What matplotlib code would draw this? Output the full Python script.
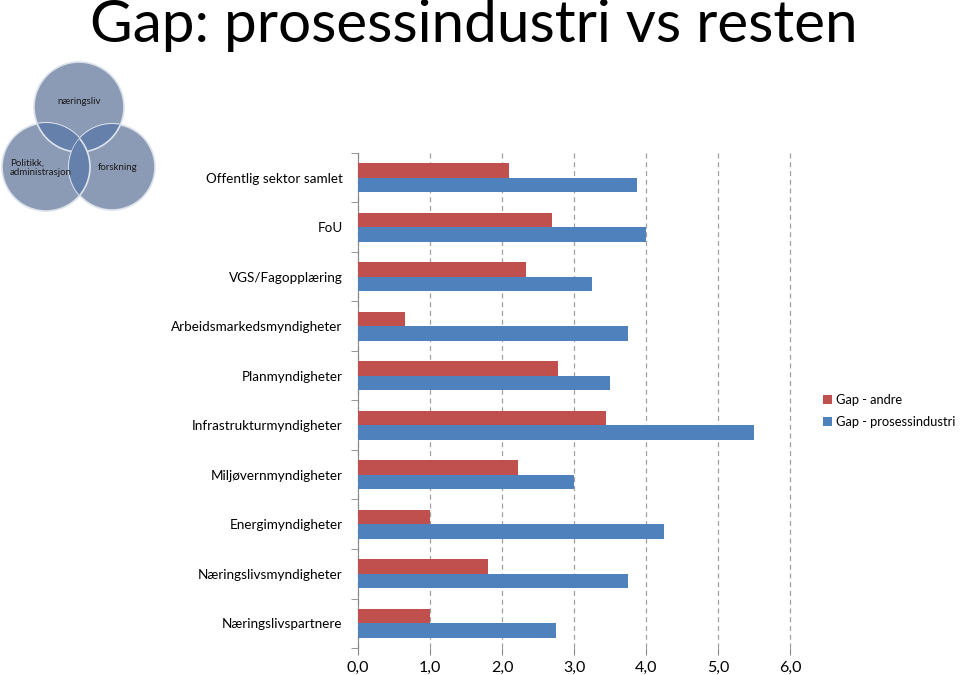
import numpy as np
import matplotlib.pyplot as plt
from matplotlib.patches import Circle
from matplotlib.ticker import FixedLocator

# Data
categories = ['Offentlig sektor samlet', 'FoU', 'VGS/Fagopplæring', 'Arbeidsmarkedsmyndigheter',
              'Planmyndigheter', 'Infrastrukturmyndigheter', 'Miljøvernmyndigheter',
              'Energimyndigheter', 'Næringslivsmyndigheter', 'Næringslivspartnere']
gap_andre = [2.1, 2.7, 2.33, 0.65, 2.78, 3.45, 2.22, 1.0, 1.8, 1.0]
gap_prosess = [3.88, 4.0, 3.25, 3.75, 3.5, 5.5, 3.0, 4.25, 3.75, 2.75]
x_ticks = [0, 1, 2, 3, 4, 5, 6]

RED = '#C0504D'
BLUE = '#4F81BD'
FONT = ['Lato', 'DejaVu Sans']
plt.rcParams['font.family'] = FONT

fig = plt.figure(figsize=(9.6, 6.75), dpi=100)

# Background layer for title and Venn diagram, in pixel coordinates
bg = fig.add_axes([0, 0, 1, 1])
bg.set_xlim(0, 960)
bg.set_ylim(675, 0)
bg.axis('off')

bg.text(474, 26, 'Gap: prosessindustri vs resten', fontsize=42, ha='center', va='center')

circ_fill = '#8C9BB5'
circ_dark = '#6580AA'
centers = [(79, 107, 45), (46, 167, 44), (112, 167, 43)]
circles = []
for cx, cy, r in centers:
    c = Circle((cx, cy), r, facecolor=circ_fill, edgecolor='#DDE3EC', lw=1.2, zorder=1)
    bg.add_patch(c)
    circles.append(c)
# darker overlaps
for i in range(3):
    for j in range(3):
        if i == j:
            continue
        cx, cy, r = centers[j]
        ov = Circle((cx, cy), r, facecolor=circ_dark, edgecolor='#DDE3EC', lw=1.2, zorder=2)
        bg.add_patch(ov)
        ov.set_clip_path(circles[i])
bg.text(79, 101, 'næringsliv', fontsize=7, ha='center', va='center', color='#1a1a1a', zorder=3)
bg.text(10, 168, 'Politikk,\nadministrasjon', fontsize=7, ha='left', va='center',
        color='#1a1a1a', zorder=3, linespacing=1.1)
bg.text(118, 168, 'forskning', fontsize=7, ha='center', va='center', color='#1a1a1a', zorder=3)

# Bar chart
ax = fig.add_axes([358 / 960, 1 - 648 / 675, 432 / 960, 495 / 675])
y = np.arange(len(categories))
h = 0.29
ax.barh(y - h / 2, gap_andre, height=h, color=RED, label='Gap - andre', zorder=3)
ax.barh(y + h / 2, gap_prosess, height=h, color=BLUE, label='Gap - prosessindustri', zorder=3)

ax.set_ylim(len(categories) - 0.5, -0.5)
ax.set_xlim(0, 6)
ax.set_yticks(y)
ax.set_yticklabels(categories, fontsize=9.7)
ax.yaxis.set_minor_locator(FixedLocator(np.arange(-0.5, len(categories), 1)))
ax.tick_params(axis='y', which='major', length=0, pad=11)
ax.tick_params(axis='y', which='minor', length=5, color='#888888')
ax.set_xticks(x_ticks)
ax.set_xticklabels([f'{v:.1f}'.replace('.', ',') for v in x_ticks], fontsize=11.5)
ax.tick_params(axis='x', length=5, color='#888888', pad=4)

ax.grid(axis='x', linestyle=(0, (4, 3)), color='#A0A0A0', lw=0.9, zorder=0)
for gl in ax.get_xgridlines():
    gl.set_clip_on(False)
for s in ['top', 'right', 'bottom']:
    ax.spines[s].set_visible(False)
ax.spines['left'].set_color('#888888')

fig.legend(loc='center left', bbox_to_anchor=(819 / 960, 1 - 411 / 675), frameon=False,
           fontsize=9.3, handlelength=0.7, handleheight=0.7, handletextpad=0.3,
           labelspacing=0.8, borderaxespad=0, borderpad=0.3)

fig.savefig('out.png', dpi=100)
